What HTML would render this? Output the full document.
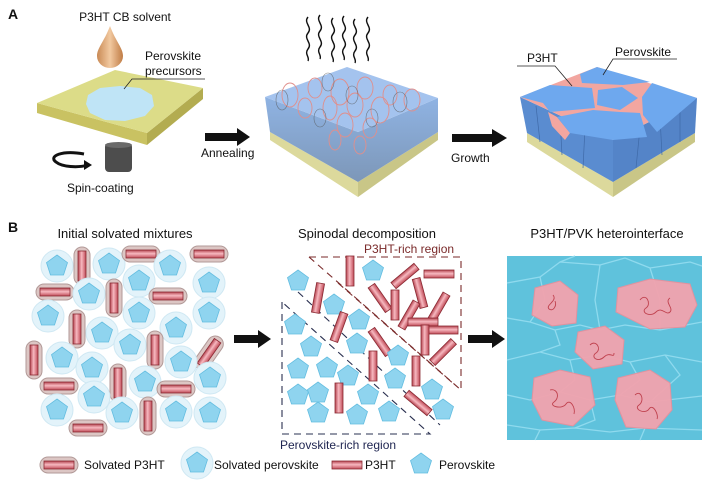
<!DOCTYPE html>
<html><head><meta charset="utf-8"><style>
html,body{margin:0;padding:0;background:#fff}
svg{display:block}
text{font-family:"Liberation Sans",Arial,sans-serif;fill:#111}
</style></head><body>
<svg width="709" height="480" viewBox="0 0 709 480" xmlns="http://www.w3.org/2000/svg">
<defs>
<linearGradient id="rg" x1="0" x2="1" y1="0" y2="0">
<stop offset="0" stop-color="#b5424f"/><stop offset="0.45" stop-color="#f7b9c0"/><stop offset="1" stop-color="#c04a57"/></linearGradient>
<linearGradient id="drop" x1="0" x2="1"><stop offset="0" stop-color="#c98a55"/><stop offset="0.5" stop-color="#f2c9a0"/><stop offset="1" stop-color="#c07c45"/></linearGradient>
<linearGradient id="b2" x1="0" x2="0" y1="0" y2="1"><stop offset="0" stop-color="#8fb3e3"/><stop offset="1" stop-color="#7d97b8"/></linearGradient>
<g id="pent"><polygon points="0,-11 10.5,-3.4 6.5,9 -6.5,9 -10.5,-3.4" fill="#8fd4ef" stroke="#63bde0" stroke-width="0.8"/></g>
<g id="hpent"><circle r="16" fill="#e3f3fa" stroke="#cfe8f3"/><use href="#pent"/></g>
<g id="rod"><rect x="-4" y="-15" width="8" height="30" fill="url(#rg)" stroke="#8a2a33" stroke-width="0.8"/></g>
<g id="vcap"><rect x="-8" y="-19" width="16" height="38" rx="8" fill="#dcc6c4" stroke="#b29a98"/><use href="#rod"/></g>
<g id="hcap"><g transform="rotate(90)"><rect x="-8" y="-19" width="16" height="38" rx="8" fill="#dcc6c4" stroke="#b29a98"/><rect x="-4" y="-15" width="8" height="30" fill="url(#rg)" stroke="#8a2a33" stroke-width="0.8"/></g></g>
</defs>

<!-- Panel A -->
<text x="8" y="19" font-size="14" font-weight="bold">A</text>
<text x="125" y="21" font-size="12" text-anchor="middle">P3HT CB solvent</text>
<path d="M110,26 C104,42 97,48 97,56 A13,12 0 0 0 123,56 C123,48 116,42 110,26Z" fill="url(#drop)"/>
<!-- plate -->
<polygon points="37,103 147,133 147,145 37,113" fill="#c9c262"/>
<polygon points="147,133 203,88 203,99 147,145" fill="#b3ac50"/>
<polygon points="37,103 115,70 203,88 147,133" fill="#dcdc88"/>
<polygon points="88,95 100,88 120,86 140,88 152,95 154,106 145,116 125,121 105,120 90,113 86,104" fill="#bfe4f6"/>
<text x="145" y="60" font-size="12">Perovskite</text>
<text x="145" y="75" font-size="12">precursors</text>
<polyline points="205,79 132,79 124,89" fill="none" stroke="#222" stroke-width="0.8"/>
<rect x="105" y="143" width="27" height="29" rx="4" fill="#4d4d4d"/>
<ellipse cx="118.5" cy="145" rx="13.5" ry="3" fill="#6a6a6a"/>
<path d="M84,154 C62,150 48,156 56,162 C62,167 78,168 88,165" fill="none" stroke="#111" stroke-width="3"/>
<polygon points="84,160 92,165 84,170" fill="#111"/>
<text x="67" y="192" font-size="12">Spin-coating</text>

<polygon points="205,133 237,133 237,128 250,137 237,146 237,141 205,141" fill="#111"/>
<text x="201" y="157" font-size="12">Annealing</text>

<!-- box 2 -->
<polygon points="270,132 358,182 358,197 270,140" fill="#dcd99c"/>
<polygon points="358,182 438,132 438,140 358,197" fill="#c9c687"/>
<polygon points="265,97 358,132 358,182 270,132" fill="url(#b2)"/>
<polygon points="358,132 438,98 438,132 358,182" fill="url(#b2)"/>
<polygon points="265,97 347,67 438,98 358,132" fill="#a4c3ee"/>
<g fill="none" stroke="#e08f8c" stroke-width="0.9">
<ellipse cx="290" cy="95" rx="8" ry="12"/><ellipse cx="315" cy="88" rx="7" ry="10"/><ellipse cx="340" cy="92" rx="9" ry="13"/>
<ellipse cx="365" cy="88" rx="8" ry="11"/><ellipse cx="390" cy="95" rx="7" ry="10"/><ellipse cx="412" cy="100" rx="8" ry="11"/>
<ellipse cx="330" cy="108" rx="7" ry="12"/><ellipse cx="355" cy="105" rx="8" ry="12"/><ellipse cx="380" cy="110" rx="9" ry="13"/>
<ellipse cx="345" cy="125" rx="8" ry="12"/><ellipse cx="370" cy="128" rx="7" ry="10"/><ellipse cx="305" cy="108" rx="7" ry="10"/>
<ellipse cx="335" cy="140" rx="6" ry="10"/><ellipse cx="360" cy="145" rx="6" ry="9"/>
</g>
<g fill="none" stroke="#555" stroke-width="0.6" opacity="0.7">
<ellipse cx="282" cy="100" rx="6" ry="10"/><ellipse cx="328" cy="82" rx="6" ry="9"/><ellipse cx="400" cy="102" rx="7" ry="10"/><ellipse cx="352" cy="95" rx="6" ry="9"/><ellipse cx="320" cy="118" rx="6" ry="9"/><ellipse cx="372" cy="118" rx="6" ry="9"/>
</g>
<g fill="none" stroke="#111" stroke-width="1.4">
<path d="M308,17 c-5,6 5,10 0,16 c-5,6 5,10 0,16 c-4,5 2,8 0,12"/>
<path d="M320,15 c-5,6 5,10 0,16 c-5,6 5,10 0,16 c-4,5 2,8 0,12"/>
<path d="M333,18 c-5,6 5,10 0,16 c-5,6 5,10 0,16 c-4,5 2,8 0,12"/>
<path d="M344,16 c-5,6 5,10 0,16 c-5,6 5,10 0,16 c-4,5 2,8 0,12"/>
<path d="M355,19 c-5,6 5,10 0,16 c-5,6 5,10 0,16 c-4,5 2,8 0,12"/>
<path d="M368,17 c-5,6 5,10 0,16 c-5,6 5,10 0,16 c-4,5 2,8 0,12"/>
</g>

<polygon points="452,134 492,134 492,129 507,138 492,147 492,142 452,142" fill="#111"/>
<text x="451" y="162" font-size="12">Growth</text>

<!-- box 3 -->
<polygon points="527,133 613,182 613,197 527,142" fill="#dcd99c"/>
<polygon points="613,182 695,133 695,142 613,197" fill="#c9c687"/>
<polygon points="520,97 613,140 613,182 527,133" fill="#5a8cd0"/>
<polygon points="613,140 697,98 695,133 613,182" fill="#5484c8"/>
<g stroke="#3f6aa8" stroke-width="0.7"><line x1="536" y1="106" x2="540" y2="142"/><line x1="560" y1="118" x2="562" y2="155"/><line x1="585" y1="128" x2="583" y2="168"/><line x1="640" y1="128" x2="636" y2="168"/><line x1="660" y1="117" x2="662" y2="155"/><line x1="680" y1="106" x2="680" y2="142"/></g>
<polygon points="548,112 557,117 570,133 565,140 552,126" fill="#f2a6a0"/>
<polygon points="520,97 597,67 697,98 613,140" fill="#f2a6a0"/>
<polygon points="580,74 597,67 650,82 623,85 582,83" fill="#6ea8ee"/>
<polygon points="520,97 550,85 592,88 595,108 550,112 543,103" fill="#6ea8ee"/>
<polygon points="598,90 622,87 638,98 620,110 597,105" fill="#6ea8ee"/>
<polygon points="652,83 697,98 657,132 643,115 642,97" fill="#6ea8ee"/>
<polygon points="557,117 593,110 620,112 640,113 647,137 613,140 570,133" fill="#6ea8ee"/>
<text x="527" y="62" font-size="12">P3HT</text>
<text x="615" y="56" font-size="12">Perovskite</text>
<polyline points="517,66 555,66 572,86" fill="none" stroke="#222" stroke-width="0.8"/>
<polyline points="677,59 613,59 603,75" fill="none" stroke="#222" stroke-width="0.8"/>

<!-- Panel B -->
<text x="8" y="232" font-size="14" font-weight="bold">B</text>
<text x="125" y="238" font-size="13" text-anchor="middle">Initial solvated mixtures</text>
<text x="367" y="238" font-size="13" text-anchor="middle">Spinodal decomposition</text>
<text x="607" y="238" font-size="13" text-anchor="middle">P3HT/PVK heterointerface</text>

<!-- left mixture -->
<use href="#hpent" x="57" y="266"/><use href="#vcap" x="82" y="266"/><use href="#hpent" x="109" y="264"/><use href="#hcap" x="141" y="254"/><use href="#hpent" x="170" y="266"/><use href="#hcap" x="209" y="254"/>
<use href="#hpent" x="139" y="281"/><use href="#hpent" x="209" y="283"/><use href="#hcap" x="55" y="292"/><use href="#hpent" x="89" y="294"/><use href="#vcap" x="114" y="298"/><use href="#hcap" x="168" y="296"/>
<use href="#hpent" x="48" y="316"/><use href="#hpent" x="139" y="313"/><use href="#hpent" x="209" y="313"/><use href="#vcap" x="77" y="329"/><use href="#hpent" x="102" y="333"/><use href="#hpent" x="176" y="328"/>
<use href="#vcap" x="34" y="360"/><use href="#hpent" x="62" y="358"/><use href="#hpent" x="130" y="345"/><use href="#vcap" x="155" y="350"/><g transform="translate(209,353) rotate(35)"><use href="#vcap"/></g><use href="#hpent" x="92" y="368"/><use href="#hpent" x="181" y="362"/><use href="#hpent" x="210" y="378"/>
<use href="#hcap" x="59" y="386"/><use href="#vcap" x="118" y="383"/><use href="#hpent" x="145" y="382"/><use href="#hcap" x="176" y="389"/><use href="#hpent" x="94" y="397"/>
<use href="#hpent" x="57" y="410"/><use href="#hpent" x="122" y="413"/><use href="#vcap" x="148" y="416"/><use href="#hpent" x="176" y="412"/><use href="#hpent" x="210" y="413"/><use href="#hcap" x="88" y="428"/>

<polygon points="234,335 258,335 258,330 271,339 258,348 258,343 234,343" fill="#111"/>

<!-- middle -->
<g fill="none" stroke-dasharray="7,5" stroke-width="1.1">
<polyline points="309,257 461,257 461,390 309,257" stroke="#7a2a2a"/>
<line x1="338" y1="283" x2="455" y2="385" stroke="#7a2a2a"/>
<polyline points="282,302 282,434 430,434 282,302" stroke="#2a3050"/>
<line x1="298" y1="292" x2="440" y2="425" stroke="#2a3050"/>
</g>
<text x="364" y="253" font-size="12" style="fill:#7a2a2a">P3HT-rich region</text>
<text x="280" y="449" font-size="12" style="fill:#1e2450">Perovskite-rich region</text>
<use href="#pent" x="298" y="281"/><use href="#pent" x="373" y="271"/><use href="#rod" x="350" y="271"/>
<g transform="translate(405,276) rotate(50)"><use href="#rod"/></g><g transform="translate(439,274) rotate(90)"><use href="#rod"/></g>
<g transform="translate(318,298) rotate(10)"><use href="#rod"/></g><use href="#pent" x="334" y="305"/>
<g transform="translate(380,298) rotate(-35)"><use href="#rod"/></g><g transform="translate(420,293) rotate(-15)"><use href="#rod"/></g>
<use href="#rod" x="395" y="305"/><g transform="translate(439,307) rotate(30)"><use href="#rod"/></g><g transform="translate(409,315) rotate(30)"><use href="#rod"/></g>
<use href="#pent" x="359" y="320"/><g transform="translate(339,327) rotate(20)"><use href="#rod"/></g>
<g transform="translate(423,322) rotate(90)"><use href="#rod"/></g><g transform="translate(443,330) rotate(90)"><use href="#rod"/></g>
<use href="#pent" x="295" y="325"/><use href="#pent" x="311" y="347"/><g transform="translate(380,342) rotate(-35)"><use href="#rod"/></g>
<use href="#pent" x="357" y="344"/><use href="#rod" x="425" y="340"/><use href="#pent" x="398" y="356"/>
<g transform="translate(443,352) rotate(45)"><use href="#rod"/></g><use href="#rod" x="373" y="366"/>
<use href="#pent" x="298" y="369"/><use href="#pent" x="327" y="368"/><use href="#pent" x="348" y="376"/><use href="#rod" x="416" y="371"/>
<use href="#pent" x="395" y="379"/><use href="#pent" x="432" y="390"/><use href="#pent" x="298" y="395"/><use href="#pent" x="318" y="393"/>
<use href="#rod" x="339" y="398"/><use href="#pent" x="368" y="395"/><g transform="translate(418,403) rotate(-50)"><use href="#rod"/></g>
<use href="#pent" x="443" y="410"/><use href="#pent" x="318" y="413"/><use href="#pent" x="357" y="415"/><use href="#pent" x="389" y="412"/>

<polygon points="468,335 492,335 492,330 505,339 492,348 492,343 468,343" fill="#111"/>

<!-- right image -->
<rect x="507" y="256" width="195" height="184" fill="#5fc2dc"/>
<g fill="none" stroke="#8fdaee" stroke-width="1.3">
<polyline points="507,283 540,277 560,262 600,265 625,258"/>
<polyline points="560,262 575,256"/><polyline points="625,258 650,268 690,262 702,266"/>
<polyline points="507,318 530,322 555,330 580,325 600,330 625,325 660,330 702,322"/>
<polyline points="507,360 540,352 570,360 600,355 630,362 665,355 702,362"/>
<polyline points="507,395 530,400 560,392 590,400 620,395 650,402 702,396"/>
<polyline points="507,425 540,430 575,428 610,432 645,428 702,430"/>
<polyline points="540,277 545,300 530,322"/><polyline points="600,265 595,300 600,330"/>
<polyline points="650,268 660,300 660,330"/><polyline points="555,330 560,345 540,352"/>
<polyline points="630,362 640,380 620,395"/><polyline points="570,360 575,380 560,392"/>
<polyline points="665,355 680,375 650,402"/><polyline points="590,400 595,420 575,428"/>
<polyline points="645,428 640,440"/><polyline points="540,430 535,440"/>
</g>
<g fill="#f2a3ae" stroke="#e7909c" opacity="0.95">
<polygon points="535,288 560,281 578,295 576,323 552,326 532,315"/>
<polygon points="618,288 650,279 690,284 697,305 685,327 650,329 616,312"/>
<polygon points="578,332 605,326 624,340 622,364 593,369 575,352"/>
<polygon points="534,378 560,370 590,377 595,405 573,426 542,420 532,400"/>
<polygon points="618,378 650,370 670,383 672,410 656,429 626,427 615,400"/>
</g>
<g fill="none" stroke="#c0424f" stroke-width="0.9">
<path d="M553,295 c5,6 -8,10 -4,14 c4,3 8,-3 6,-8"/>
<path d="M640,300 c6,-8 12,4 6,8 c-6,4 4,10 10,4 c6,-6 10,4 14,0 c4,-4 -6,-10 0,-14"/>
<path d="M590,345 c6,-6 12,4 6,8 c-6,4 2,10 8,4 c6,-6 10,2 10,-4"/>
<path d="M550,390 c8,-2 10,8 4,12 c-6,4 8,8 12,2 c4,-6 10,4 8,10"/>
<path d="M635,395 c6,-6 10,6 4,10 c-6,4 6,10 10,4 c4,-6 10,6 8,10"/>
</g>

<!-- legend -->
<use href="#hcap" x="59" y="465"/>
<text x="84" y="469" font-size="12">Solvated P3HT</text>
<use href="#hpent" x="197" y="463"/>
<text x="214" y="469" font-size="12">Solvated perovskite</text>
<g transform="translate(347,465) rotate(90)"><use href="#rod"/></g>
<text x="365" y="469" font-size="12">P3HT</text>
<use href="#pent" x="421" y="464"/>
<text x="439" y="469" font-size="12">Perovskite</text>
</svg>
</body></html>
